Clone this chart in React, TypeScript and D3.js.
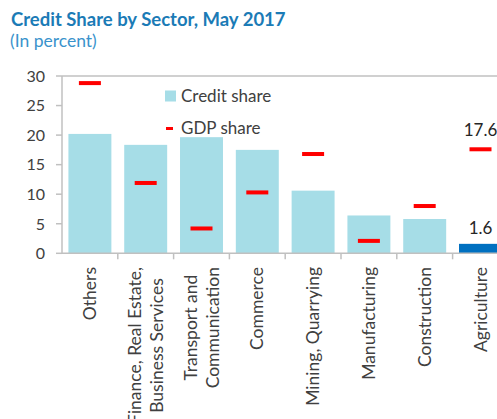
import React, { useEffect, useRef } from "react";
import * as d3 from "d3";

const categories: string[][] = [
  ["Others"],
  ["Finance, Real Estate,", "Business Services"],
  ["Transport and", "Communication"],
  ["Commerce"],
  ["Mining, Quarrying"],
  ["Manufacturing"],
  ["Construction"],
  ["Agriculture"],
];
const creditShare = [20.2, 18.35, 19.65, 17.5, 10.6, 6.4, 5.8, 1.6];
const gdpShare = [28.8, 11.9, 4.2, 10.3, 16.8, 2.1, 8.0, 17.6];
const yTicks = [0, 5, 10, 15, 20, 25, 30];
const labelled = [7];

const W = 497;
const H = 419;
const FONT = "Lato, 'Open Sans', sans-serif";

export default function App() {
  const ref = useRef<SVGSVGElement | null>(null);

  useEffect(() => {
    const svg = d3.select(ref.current);
    svg.selectAll("*").remove();

    const left = 62;
    const step = 55.8;
    const x = d3
      .scaleBand<number>()
      .domain(categories.map((_, i) => i))
      .range([left, left + step * categories.length])
      .paddingInner(0.23)
      .paddingOuter(0.115);
    const y = d3.scaleLinear().domain([0, 30]).range([253.3, 76]);

    const axisColor = "#c0c0c0";
    const textColor = "#404040";

    // title
    svg
      .append("text")
      .attr("x", 11)
      .attr("y", 26)
      .attr("font-family", FONT)
      .attr("font-weight", "bold")
      .attr("font-size", 18.5)
      .attr("fill", "#1b7bb6")
      .text("Credit Share by Sector, May 2017");
    svg
      .append("text")
      .attr("x", 10)
      .attr("y", 47)
      .attr("font-family", FONT)
      .attr("font-size", 17.5)
      .attr("fill", "#3a93cc")
      .text("(In percent)");

    // top border
    svg
      .append("line")
      .attr("x1", left)
      .attr("x2", W)
      .attr("y1", y(30))
      .attr("y2", y(30))
      .attr("stroke", axisColor)
      .attr("stroke-width", 1.5);

    // y axis
    const yAxis = svg.append("g");
    yAxis
      .append("line")
      .attr("x1", left)
      .attr("x2", left)
      .attr("y1", y(30))
      .attr("y2", y(0))
      .attr("stroke", axisColor)
      .attr("stroke-width", 1.5);
    yTicks.forEach((t) => {
      yAxis
        .append("line")
        .attr("x1", left - 6)
        .attr("x2", left)
        .attr("y1", y(t))
        .attr("y2", y(t))
        .attr("stroke", axisColor)
        .attr("stroke-width", 1.5);
      yAxis
        .append("text")
        .attr("x", 45)
        .attr("y", y(t))
        .attr("dy", "0.36em")
        .attr("text-anchor", "end")
        .attr("font-family", FONT)
        .attr("font-size", 16)
        .attr("fill", textColor)
        .text(String(t));
    });

    // bars
    svg
      .append("g")
      .selectAll("rect")
      .data(creditShare)
      .join("rect")
      .attr("x", (_, i) => x(i)!)
      .attr("width", x.bandwidth())
      .attr("y", (d) => y(d))
      .attr("height", (d) => y(0) - y(d))
      .attr("fill", (_, i) => (i === categories.length - 1 ? "#0070c0" : "#a6dde7"));

    // x axis
    svg
      .append("line")
      .attr("x1", left)
      .attr("x2", W)
      .attr("y1", y(0))
      .attr("y2", y(0))
      .attr("stroke", axisColor)
      .attr("stroke-width", 1.5);
    for (let i = 1; i < categories.length; i++) {
      const bx = left + x.step() * i;
      svg
        .append("line")
        .attr("x1", bx)
        .attr("x2", bx)
        .attr("y1", y(0))
        .attr("y2", y(0) + 6)
        .attr("stroke", axisColor)
        .attr("stroke-width", 1.5);
    }

    // gdp dashes
    const dashW = 22;
    svg
      .append("g")
      .selectAll("rect")
      .data(gdpShare)
      .join("rect")
      .attr("x", (_, i) => x(i)! + x.bandwidth() / 2 - dashW / 2)
      .attr("width", dashW)
      .attr("y", (d) => y(d) - 2)
      .attr("height", 4)
      .attr("fill", "#ff0000");

    // data labels
    labelled.forEach((i) => {
      const cx = x(i)! + x.bandwidth() / 2;
      svg
        .append("text")
        .attr("x", cx)
        .attr("y", y(gdpShare[i]) - 13)
        .attr("text-anchor", "middle")
        .attr("font-family", FONT)
        .attr("font-size", 17)
        .attr("fill", "#262626")
        .text(String(gdpShare[i]));
      svg
        .append("text")
        .attr("x", cx)
        .attr("y", y(creditShare[i]) - 10)
        .attr("text-anchor", "middle")
        .attr("font-family", FONT)
        .attr("font-size", 17)
        .attr("fill", "#262626")
        .text(String(creditShare[i]));
    });

    // category labels (rotated)
    const topY = 267;
    const lineH = 22;
    categories.forEach((lines, i) => {
      const cx = x(i)! + x.bandwidth() / 2;
      const g = svg.append("g");
      const texts = lines.map((ln) =>
        g
          .append("text")
          .attr("font-family", FONT)
          .attr("font-size", 17.5)
          .attr("fill", textColor)
          .attr("text-anchor", "middle")
          .text(ln)
      );
      const lens = texts.map((t) => (t.node() as SVGTextElement).getComputedTextLength());
      const maxLen = Math.max(...lens);
      const centerY = topY + maxLen / 2;
      const n = lines.length;
      texts.forEach((t, k) => {
        const lx = cx + (k - (n - 1) / 2) * lineH;
        t.attr("transform", `translate(${lx},${centerY}) rotate(-90)`).attr("dy", "0.35em");
      });
    });

    // legend
    const lg = svg.append("g");
    lg.append("rect").attr("x", 165).attr("y", 90.5).attr("width", 11).attr("height", 11).attr("fill", "#a6dde7");
    lg.append("text")
      .attr("x", 181)
      .attr("y", 96)
      .attr("dy", "0.35em")
      .attr("font-family", FONT)
      .attr("font-size", 17)
      .attr("fill", textColor)
      .text("Credit share");
    lg.append("rect").attr("x", 166).attr("y", 127).attr("width", 7).attr("height", 3).attr("fill", "#ff0000");
    lg.append("text")
      .attr("x", 181)
      .attr("y", 128)
      .attr("dy", "0.35em")
      .attr("font-family", FONT)
      .attr("font-size", 17)
      .attr("fill", textColor)
      .text("GDP share");
  }, []);

  return (
    <svg
      ref={ref}
      width={W}
      height={H}
      style={{ position: "absolute", left: 0, top: 0, background: "#fff" }}
    />
  );
}
